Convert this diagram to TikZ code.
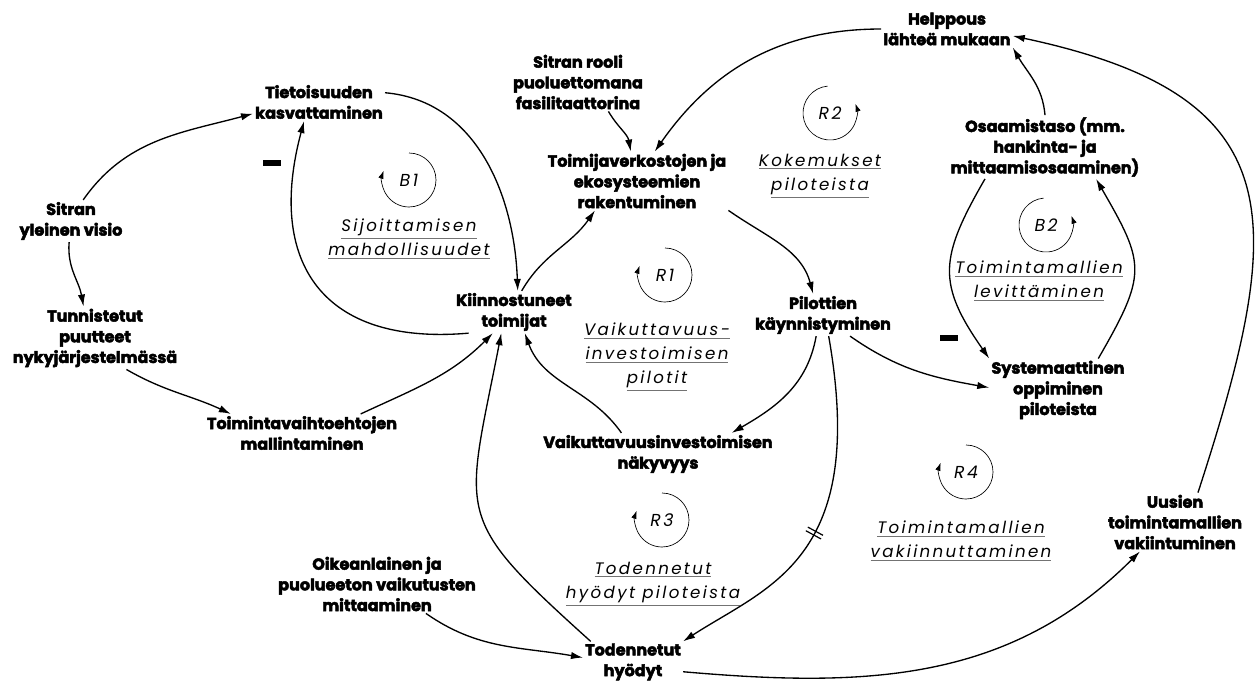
\documentclass[tikz,border=0pt]{standalone}
\usepackage{fontspec}
\setmainfont{Poppins}[BoldFeatures={FakeBold=3}]
\newfontfamily\loopfont{Poppins}[LetterSpace=14]
\usetikzlibrary{arrows.meta}
\def\loopunder#1{\textcolor{black!55}{\underline{\textcolor{black}{#1}}}}
\def\delaybars{\rule[-6.5pt]{0.9pt}{13pt}\hspace{2.2pt}\rule[-6.5pt]{0.9pt}{13pt}}
\tikzset{
  factor/.style={align=center, font=\fontsize{12}{15.5}\selectfont\bfseries, inner sep=1.5pt},
  link/.style={line width=1pt, -{Latex[length=9pt,width=5.5pt]}},
  looptitle/.style={align=center, font=\fontsize{12.5}{18}\selectfont\loopfont\itshape, inner sep=0pt},
  looptag/.style={font=\fontsize{13}{15}\selectfont\loopfont\itshape, inner sep=0pt},
  looparc/.style={line width=0.5pt, -{Latex[length=6pt,width=4pt]}},
  minusbar/.style={fill=black, minimum width=13pt, minimum height=3.8pt, inner sep=0pt},
  delaymark/.style={sloped, inner sep=0pt},
}

\begin{document}
\begin{tikzpicture}[x=0.75pt,y=0.75pt]
\useasboundingbox (0,0) rectangle (1259,-682);

% variables
\node[factor] (helppous) at (947,-29) {Helppous\\lähteä mukaan};
\node[factor] (rooli) at (578,-82) {Sitran rooli\\puoluettomana\\fasilitaattorina};
\node[factor] (tietoisuus) at (319,-102) {Tietoisuuden\\kasvattaminen};
\node[factor] (verkostot) at (637,-181) {Toimijaverkostojen ja\\ekosysteemien\\rakentuminen};
\node[factor] (osaaminen) at (1045,-147) {Osaamistaso (mm.\\hankinta- ja\\mittaamisosaaminen)};
\node[factor] (visio) at (71,-221) {Sitran\\yleinen visio};
\node[factor] (kiinnostus) at (514,-312) {Kiinnostuneet\\toimijat};
\node[factor] (pilotit) at (823,-315) {Pilottien\\käynnistyminen};
\node[factor] (puutteet) at (95,-338) {Tunnistetut\\puutteet\\nykyjärjestelmässä};
\node[factor] (oppiminen) at (1058,-390) {Systemaattinen\\oppiminen\\piloteista};
\node[factor] (mallinnus) at (302,-433) {Toimintavaihtoehtojen\\mallintaminen};
\node[factor] (nakyvyys) at (658,-454) {Vaikuttavuusinvestoimisen\\näkyvyys};
\node[factor] (uudet) at (1175,-522) {Uusien\\toimintamallien\\vakiintuminen};
\node[factor] (mittaus) at (377,-584) {Oikeanlainen ja\\puolueeton vaikutusten\\mittaaminen};
\node[factor] (hyodyt) at (633,-662) {Todennetut\\hyödyt};

% loop markers
\node[looptag] (b1) at (409,-180) {B1};
\node[looptag] (r2) at (830,-113) {R2};
\node[looptag] (r1) at (665,-275) {R1};
\node[looptag] (b2) at (1046,-225) {B2};
\node[looptag] (r4) at (966,-472) {R4};
\node[looptag] (r3) at (662,-520) {R3};
\draw[looparc] (b1.center) ++(90:27) arc[start angle=90, end angle=-200, radius=27];
\draw[looparc] (r1.center) ++(90:27) arc[start angle=90, end angle=-200, radius=27];
\draw[looparc] (r3.center) ++(90:27) arc[start angle=90, end angle=-200, radius=27];
\draw[looparc] (r4.center) ++(90:27) arc[start angle=90, end angle=-200, radius=27];
\draw[looparc] (r2.center) ++(95:27) arc[start angle=95, end angle=380, radius=27];
\draw[looparc] (b2.center) ++(95:27) arc[start angle=95, end angle=380, radius=27];

\node[looptitle] (b1name) at (409,-239) {\loopunder{Sijoittamisen}\\\loopunder{mahdollisuudet}};
\node[looptitle] (r2name) at (820,-176) {\loopunder{Kokemukset}\\\loopunder{piloteista}};
\node[looptitle] (r1name) at (657,-357) {\loopunder{Vaikuttavuus-}\\\loopunder{investoimisen}\\\loopunder{pilotit}};
\node[looptitle] (b2name) at (1039,-281) {\loopunder{Toimintamallien}\\\loopunder{levittäminen}};
\node[looptitle] (r4name) at (961,-541) {\loopunder{Toimintamallien}\\\loopunder{vakiinnuttaminen}};
\node[looptitle] (r3name) at (653,-584) {\loopunder{Todennetut}\\\loopunder{hyödyt piloteista}};

% polarity
\node[minusbar] (neg1) at (272,-163) {};
\node[minusbar] (neg2) at (949,-338) {};

% links
\draw[link] (visio.60) to[out=55,in=195] (tietoisuus.190);
\draw[link] (visio.-95) to[out=-95,in=100] (puutteet.110);
\draw[link] (puutteet.-45) to[out=-30,in=155] (mallinnus.165);
\draw[link] (mallinnus.18) to[out=25,in=-135] (kiinnostus.-135);
\draw[link] (tietoisuus.8) to[out=-5,in=92] (kiinnostus.80);
\draw[link] (kiinnostus.-155) to[out=185,in=-105,looseness=1.4] (tietoisuus.-128);
\draw[link] (kiinnostus.70) to[out=60,in=-125] (verkostot.-145);
\draw[link] (rooli.-44) to[out=-60,in=100] (verkostot.102);
\draw[link] (helppous.180) to[out=180,in=55] (verkostot.59);
\draw[link] (verkostot.south east) to[out=-35,in=105] (pilotit.115);
\draw[link] (pilotit.-108) to[out=-100,in=30] (nakyvyys.16);
\draw[link] (nakyvyys.150) to[out=125,in=-70] (kiinnostus.-63);
\draw[link] (hyodyt.154) to[out=138,in=-101,looseness=1.5] (kiinnostus.-121);
\draw[link] (pilotit.-75) to[out=-80,in=33,out distance=170pt,in distance=76pt] node[delaymark,pos=.43] {\delaybars} (hyodyt.north east);
\draw[link] (pilotit.-38) to[out=-35,in=170] (oppiminen.178);
\draw[link] (osaaminen.-152) to[out=-120,in=125,looseness=1.3] (oppiminen.north west);
\draw[link] (oppiminen.38) to[out=60,in=-60,looseness=1.4] (osaaminen.-32);
\draw[link] (osaaminen.north) to[out=95,in=-60] (helppous.south east);
\draw[link] (uudet.52) to[out=72,in=-12,looseness=1.5] (helppous.-6);
\draw[link] (hyodyt.-11) to[out=-5,in=-135] (uudet.-140);
\draw[link] (mittaus.-31) to[out=-35,in=170] (hyodyt.175);
\end{tikzpicture}
\end{document}
